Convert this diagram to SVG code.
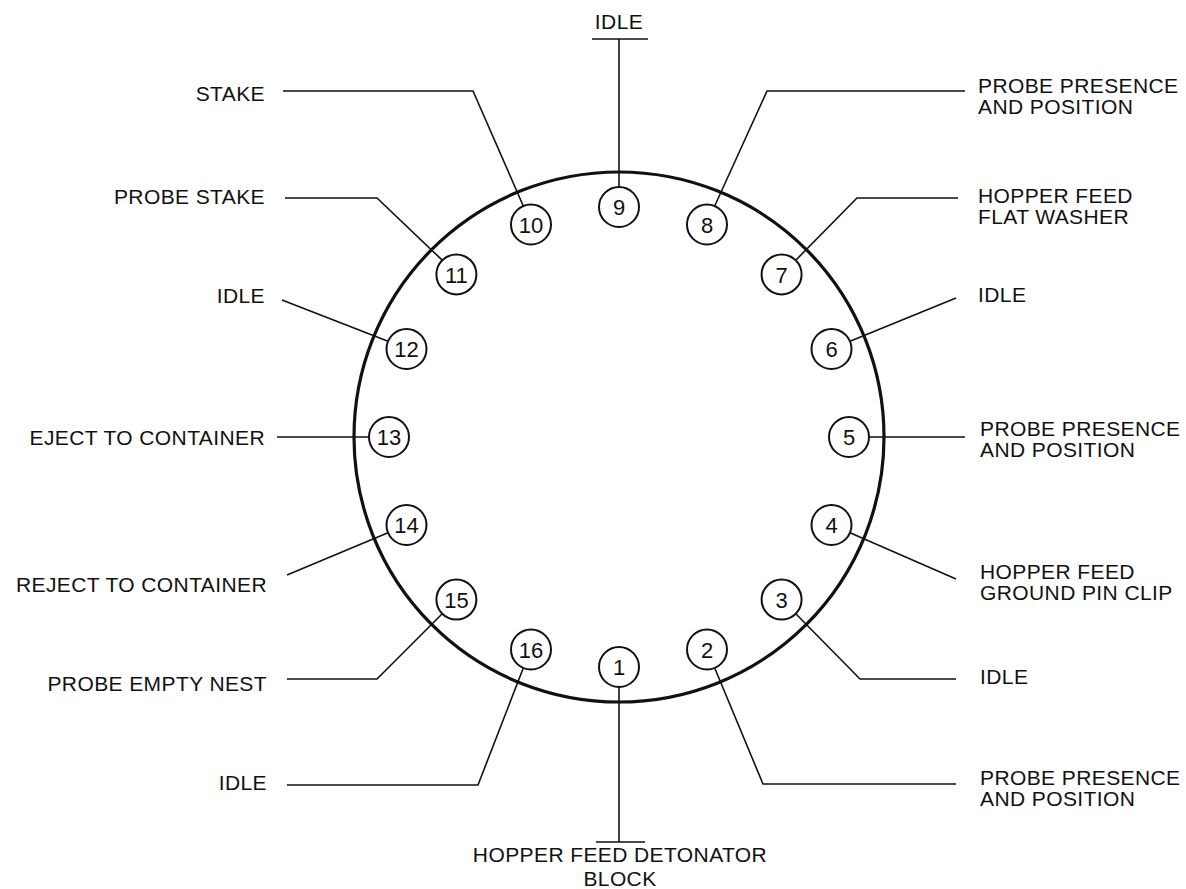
<svg xmlns="http://www.w3.org/2000/svg" width="1186" height="889" viewBox="0 0 1186 889">
<style>
.lbl{font-family:"Liberation Sans",Arial,sans-serif;font-size:21px;fill:#111;letter-spacing:0.4px}
.num{font-family:"Liberation Sans",Arial,sans-serif;font-size:22px;fill:#111;text-anchor:middle}
.st{fill:none;stroke:#111;stroke-width:2}
.ld{fill:none;stroke:#111;stroke-width:1.6;stroke-linejoin:miter}
.end{text-anchor:end}
</style>
<rect width="1186" height="889" fill="#fff"/>
<g id="dial"><circle cx="619" cy="437" r="265" fill="none" stroke="#111" stroke-width="3.2"/></g>
<g id="connectors">
<path class="ld" d="M619,187 V39 M592,39 H648"/>
<path class="ld" d="M619,687 V842 M596,842 H645"/>
<path class="ld" d="M523.3,206 L473,91 H283"/>
<path class="ld" d="M442.2,260.2 L377,198 H285"/>
<path class="ld" d="M388,341.3 L282,300"/>
<path class="ld" d="M369,437 H277"/>
<path class="ld" d="M388,532.7 L287,575"/>
<path class="ld" d="M442.2,613.8 L377,679 H287"/>
<path class="ld" d="M523.3,668 L478,785 H287"/>
<path class="ld" d="M714.7,206 L767,91 H965"/>
<path class="ld" d="M795.8,260.2 L857,198 H958"/>
<path class="ld" d="M850,341.3 L956,298"/>
<path class="ld" d="M869,437 H965"/>
<path class="ld" d="M850,532.7 L956,579"/>
<path class="ld" d="M795.8,613.8 L860,679 H956"/>
<path class="ld" d="M714.7,668 L763,784 H956"/>
</g>
<g id="s1"><circle class="st" cx="619" cy="667" r="20"/><text class="num" x="619" y="675">1</text></g>
<g id="s2"><circle class="st" cx="707" cy="649.5" r="20"/><text class="num" x="707" y="657.5">2</text></g>
<g id="s3"><circle class="st" cx="781.6" cy="599.6" r="20"/><text class="num" x="781.6" y="607.5">3</text></g>
<g id="s4"><circle class="st" cx="831.5" cy="525" r="20"/><text class="num" x="831.5" y="533">4</text></g>
<g id="s5"><circle class="st" cx="849" cy="437" r="20"/><text class="num" x="849" y="445">5</text></g>
<g id="s6"><circle class="st" cx="831.5" cy="349" r="20"/><text class="num" x="831.5" y="357">6</text></g>
<g id="s7"><circle class="st" cx="781.6" cy="274.4" r="20"/><text class="num" x="781.6" y="282.5">7</text></g>
<g id="s8"><circle class="st" cx="707" cy="224.5" r="20"/><text class="num" x="707" y="232.5">8</text></g>
<g id="s9"><circle class="st" cx="619" cy="207" r="20"/><text class="num" x="619" y="215">9</text></g>
<g id="s10"><circle class="st" cx="531" cy="224.5" r="20"/><text class="num" x="531" y="232.5">10</text></g>
<g id="s11"><circle class="st" cx="456.4" cy="274.4" r="20"/><text class="num" x="456.4" y="282.5">11</text></g>
<g id="s12"><circle class="st" cx="406.5" cy="349" r="20"/><text class="num" x="406.5" y="357">12</text></g>
<g id="s13"><circle class="st" cx="389" cy="437" r="20"/><text class="num" x="389" y="445">13</text></g>
<g id="s14"><circle class="st" cx="406.5" cy="525" r="20"/><text class="num" x="406.5" y="533">14</text></g>
<g id="s15"><circle class="st" cx="456.4" cy="599.6" r="20"/><text class="num" x="456.4" y="607.5">15</text></g>
<g id="s16"><circle class="st" cx="531" cy="649.5" r="20"/><text class="num" x="531" y="657.5">16</text></g>
<g id="labels">
<text class="lbl" x="619" y="29" text-anchor="middle">IDLE</text>
<text class="lbl" x="620" y="862" text-anchor="middle">HOPPER FEED DETONATOR</text>
<text class="lbl" x="620" y="886" text-anchor="middle">BLOCK</text>
<text class="lbl end" x="265" y="101">STAKE</text>
<text class="lbl end" x="265" y="204">PROBE STAKE</text>
<text class="lbl end" x="265" y="303">IDLE</text>
<text class="lbl end" x="265" y="445">EJECT TO CONTAINER</text>
<text class="lbl end" x="267" y="592">REJECT TO CONTAINER</text>
<text class="lbl end" x="267" y="691">PROBE EMPTY NEST</text>
<text class="lbl end" x="267" y="790">IDLE</text>
<text class="lbl" x="978" y="93">PROBE PRESENCE</text>
<text class="lbl" x="978" y="114">AND POSITION</text>
<text class="lbl" x="978" y="203">HOPPER FEED</text>
<text class="lbl" x="978" y="224">FLAT WASHER</text>
<text class="lbl" x="978" y="302">IDLE</text>
<text class="lbl" x="980" y="436">PROBE PRESENCE</text>
<text class="lbl" x="980" y="457">AND POSITION</text>
<text class="lbl" x="980" y="579">HOPPER FEED</text>
<text class="lbl" x="980" y="600">GROUND PIN CLIP</text>
<text class="lbl" x="980" y="684">IDLE</text>
<text class="lbl" x="980" y="785">PROBE PRESENCE</text>
<text class="lbl" x="980" y="806">AND POSITION</text>
</g>
</svg>
